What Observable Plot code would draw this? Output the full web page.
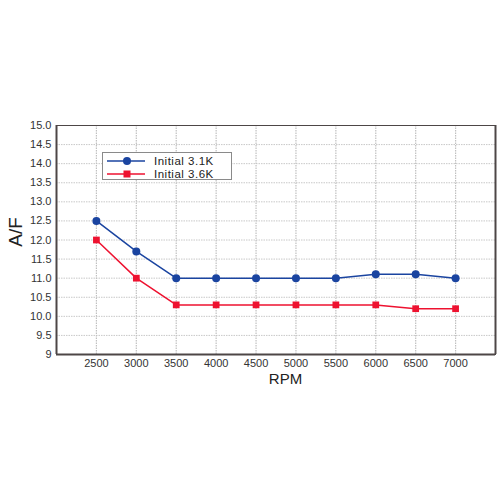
<!DOCTYPE html>
<html>
<head>
<meta charset="utf-8">
<script src="https://cdn.jsdelivr.net/npm/d3@7"></script>
<script src="https://cdn.jsdelivr.net/npm/@observablehq/plot@0.6"></script>
<style>
  html, body { margin: 0; padding: 0; background: #fff; }
  #wrap { position: relative; width: 500px; height: 500px; font-family: "Liberation Sans", Arial, sans-serif; }
  #legend { position: absolute; left: 102px; top: 152px; width: 128px; height: 26px; border: 1px solid #8a8a8a; background: #fff; font-size: 11.5px; color: #222; }
  .row { position: absolute; left: 0; height: 14px; display: flex; align-items: center; }
  .row svg { margin-left: 2px; }
  .row span { margin-left: 9px; letter-spacing: 0.5px; }
</style>
</head>
<body>
<div id="wrap"><div id="chart"></div><div id="legend"></div></div>
<script>
const rpm = [2500, 3000, 3500, 4000, 4500, 5000, 5500, 6000, 6500, 7000];
const seriesNames = ["Initial 3.1K", "Initial 3.6K"];
const afInitial31K = [12.5, 11.7, 11.0, 11.0, 11.0, 11.0, 11.0, 11.1, 11.1, 11.0];
const afInitial36K = [12.0, 11.0, 10.3, 10.3, 10.3, 10.3, 10.3, 10.3, 10.2, 10.2];
const yTicks = [9, 9.5, 10, 10.5, 11, 11.5, 12, 12.5, 13, 13.5, 14, 14.5, 15];
const colors = ["#1a44a0", "#ee1230"];

const s1 = rpm.map((r, i) => ({rpm: r, af: afInitial31K[i]}));
const s2 = rpm.map((r, i) => ({rpm: r, af: afInitial36K[i]}));
const xFmt = d => String(d);
const yFmt = d => d === 9 ? "9" : d.toFixed(1);

const chart = Plot.plot({
  width: 500,
  height: 500,
  marginLeft: 56,
  marginRight: 5,
  marginTop: 125,
  marginBottom: 146,
  style: {fontFamily: "'Liberation Sans', Arial, sans-serif", fontSize: "11px", color: "#333", background: "#fff"},
  x: {domain: [2000, 7500], label: null},
  y: {domain: [9, 15], label: null},
  marks: [
    Plot.gridY(yTicks, {stroke: "#c8c8c8", strokeOpacity: 1, strokeDasharray: "1.5,1"}),
    Plot.gridX(rpm, {stroke: "#c0c0c0", strokeOpacity: 1, strokeWidth: 1.2, strokeDasharray: "1.5,1"}),
    Plot.axisX(rpm, {tickSize: 0, tickPadding: 5, tickFormat: xFmt, fill: "#333", fontSize: 11, label: null}),
    Plot.axisY(yTicks, {tickSize: 0, tickPadding: 5, tickFormat: yFmt, fill: "#333", fontSize: 11, label: null}),
    Plot.frame({stroke: "#4d4646", strokeWidth: 1}),
    Plot.ruleX([2000], {stroke: "#4d4646", strokeWidth: 2}),
    Plot.ruleX([7500], {stroke: "#4d4646", strokeWidth: 2}),
    Plot.ruleY([9], {stroke: "#4d4646", strokeWidth: 2}),
    Plot.line(s1, {x: "rpm", y: "af", stroke: colors[0], strokeWidth: 1.5}),
    Plot.line(s2, {x: "rpm", y: "af", stroke: colors[1], strokeWidth: 1.5}),
    Plot.dot(s1, {x: "rpm", y: "af", fill: colors[0], r: 4, symbol: "circle"}),
    Plot.dot(s2, {x: "rpm", y: "af", fill: colors[1], r: 3.8, symbol: "square"}),
    Plot.text(["RPM"], {frameAnchor: "bottom", dx: 9.5, dy: 19, lineAnchor: "top", textAnchor: "middle", fontSize: 15, fill: "#222", style: "letter-spacing:4px"}),
    Plot.text(["A/F"], {frameAnchor: "left", dx: -41, dy: -8, rotate: -90, textAnchor: "middle", fontSize: 19, fill: "#222"})
  ]
});
document.getElementById("chart").appendChild(chart);

const legend = document.getElementById("legend");
seriesNames.forEach((name, i) => {
  const row = document.createElement("div");
  row.className = "row";
  row.style.top = (i === 0 ? 1 : 14) + "px";
  const marker = i === 0
    ? `<circle cx="22" cy="7" r="4" fill="${colors[i]}"/>`
    : `<rect x="18.5" y="3.5" width="7" height="7" fill="${colors[i]}"/>`;
  row.innerHTML = `<svg width="40" height="14"><line x1="2" x2="40" y1="7" y2="7" stroke="${colors[i]}" stroke-width="1.5"/>${marker}</svg><span>${name}</span>`;
  legend.appendChild(row);
});
</script>
</body>
</html>
